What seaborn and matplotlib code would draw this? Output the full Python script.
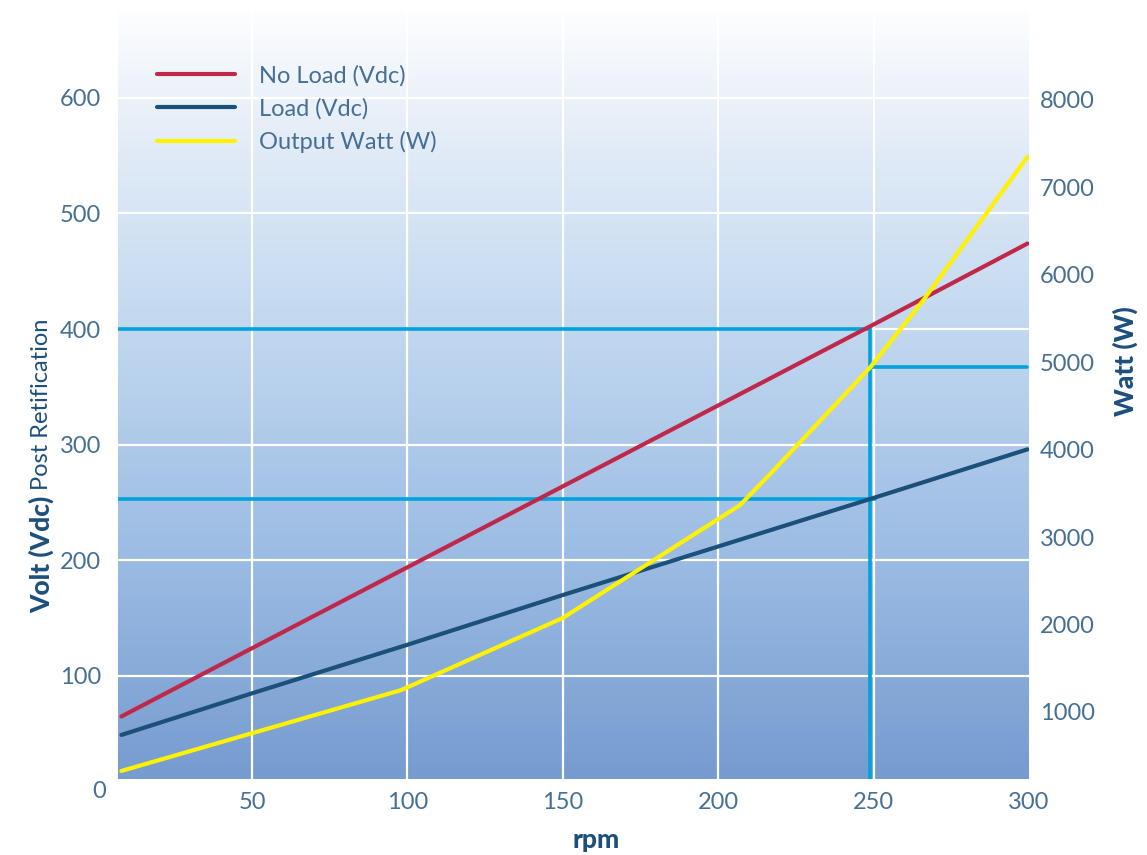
import numpy as np
import pandas as pd
import matplotlib.pyplot as plt
import seaborn as sns
from matplotlib.colors import LinearSegmentedColormap
from matplotlib.lines import Line2D
import matplotlib.transforms as mtransforms

sns.set_style("white")
plt.rcParams['font.family'] = ['Lato', 'DejaVu Sans']

# data
rpm_volt = [8, 50, 100, 150, 200, 250, 299.5]
no_load_vdc = [65, 124, 194, 264, 334, 404, 474]
load_vdc = [49, 85, 127, 170, 212, 254, 296]

rpm_watt = [8, 98, 150, 207, 218, 249, 266, 299.5]
output_watt = [325, 1250, 2075, 3365, 3770, 4945, 5710, 7350]

# operating point marker lines
op_rpm = 249
op_noload = 400
op_load = 253
op_watt = 4950

RED = '#c0284a'
NAVY = '#1a5079'
YELLOW = '#fff200'
CYAN = '#00a3dc'
TXT = '#456f95'
TITLE = '#1c4f7c'

fig = plt.figure(figsize=(11.47, 8.55), dpi=100)
ax = fig.add_axes([118 / 1147, 1 - 779 / 855, (1029 - 118) / 1147, (779 - 10) / 855])

# gradient background
grad = LinearSegmentedColormap.from_list('bg', [
    (0.0, '#fdfeff'), (0.15, '#e6eef8'), (0.4, '#c3d9f0'),
    (0.7, '#9dbde4'), (1.0, '#769bcf')])
ax.imshow(np.linspace(0, 1, 256).reshape(-1, 1), cmap=grad, aspect='auto',
          extent=[0, 1, 0, 1], transform=ax.transAxes, zorder=0)

ax.set_xlim(6.9, 300)
ax.set_ylim(10.9, 676)

for x in [50, 100, 150, 200, 250]:
    ax.axvline(x, color='white', lw=1.6, zorder=1)
for y in [100, 200, 300, 400, 500, 600]:
    ax.axhline(y, color='white', lw=1.6, zorder=1)

# operating point lines
ax.plot([6.9, op_rpm], [op_noload, op_noload], color=CYAN, lw=2.6, zorder=2)
ax.plot([6.9, op_rpm + 1.3], [op_load, op_load], color=CYAN, lw=2.6, zorder=2)
ax.plot([op_rpm, op_rpm], [10.9, op_noload], color=CYAN, lw=2.6, zorder=2)

df_v = pd.DataFrame({'rpm': rpm_volt, 'noload': no_load_vdc, 'load': load_vdc})
sns.lineplot(data=df_v, x='rpm', y='noload', color=RED, lw=3, ax=ax, zorder=3)
sns.lineplot(data=df_v, x='rpm', y='load', color=NAVY, lw=3, ax=ax, zorder=3)

ax.set_xticks([50, 100, 150, 200, 250, 300])
ax.set_yticks([100, 200, 300, 400, 500, 600])
ax.tick_params(axis='x', length=0, pad=9, labelsize=17, labelcolor=TXT)
ax.tick_params(axis='y', length=0, pad=12, labelsize=17, labelcolor=TXT)
ax.set_xlabel('')
ax.set_ylabel('')
for s in ax.spines.values():
    s.set_visible(False)

# lone "0" label under the visible range
ax.text(-12 / 911, 0, '0', transform=mtransforms.blended_transform_factory(ax.transAxes, ax.transData),
        ha='right', va='center', fontsize=17, color=TXT, clip_on=False)

ax2 = ax.twinx()
ax2.set_ylim(233, 9029)
ax2.plot([op_rpm, 299.5], [op_watt, op_watt], color=CYAN, lw=2.6, zorder=2)
df_w = pd.DataFrame({'rpm': rpm_watt, 'watt': output_watt})
sns.lineplot(data=df_w, x='rpm', y='watt', color=YELLOW, lw=3, ax=ax2, zorder=3)
ax2.set_yticks(range(1000, 9000, 1000))
ax2.tick_params(axis='y', length=0, pad=8, labelsize=17, labelcolor=TXT)
ax2.set_ylabel('')
ax2.set_xlabel('')
for s in ax2.spines.values():
    s.set_visible(False)
ax2.grid(False)

handles = [Line2D([], [], color=RED, lw=3), Line2D([], [], color=NAVY, lw=3),
           Line2D([], [], color=YELLOW, lw=3)]
leg = ax2.legend(handles, ['No Load (Vdc)', 'Load (Vdc)', 'Output Watt (W)'],
                 loc='upper left', bbox_to_anchor=(157 / 1147, 1 - 65 / 855),
                 bbox_transform=fig.transFigure, frameon=False, fontsize=17,
                 handlelength=3.3, handletextpad=1.0, labelspacing=0.48,
                 borderpad=0, borderaxespad=0)
for t in leg.get_texts():
    t.set_color(TXT)

# axis titles
volt = fig.text(42 / 1147, 1 - 613 / 855, 'Volt (Vdc)', rotation=90, ha='center', va='bottom',
                fontsize=19, fontweight='black', color=TITLE)
ax.annotate(' Post Retification', xy=(0.5, 1), xycoords=volt, rotation=90,
            ha='center', va='bottom', fontsize=17, color=TITLE, annotation_clip=False)
fig.text(1125 / 1147, 1 - 361 / 855, 'Watt (W)', rotation=90, ha='center', va='center',
         fontsize=19, fontweight='black', color=TITLE)
fig.text(596 / 1147, 1 - 840 / 855, 'rpm', ha='center', va='center',
         fontsize=19, fontweight='black', color=TITLE)

fig.savefig('out.png', dpi=100)
